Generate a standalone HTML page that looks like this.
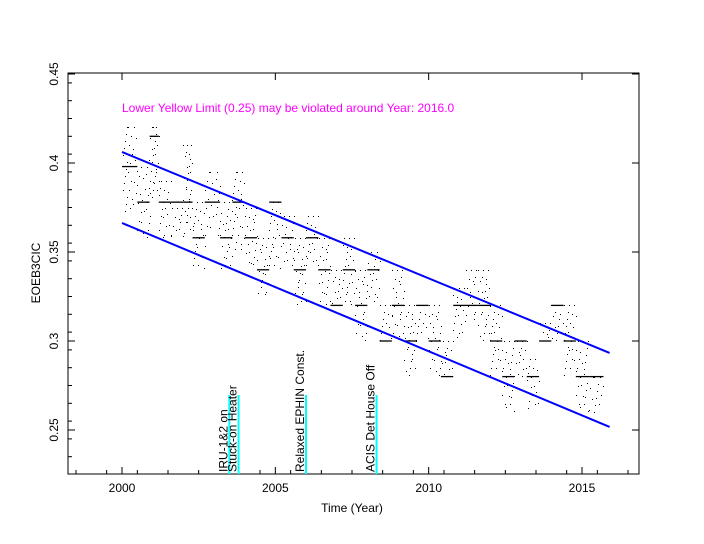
<!DOCTYPE html>
<html><head><meta charset="utf-8"><style>
body{margin:0;background:#fff;}
svg{display:block;font-family:"Liberation Sans",sans-serif;}
</style></head><body>
<svg id="chart" width="704" height="544">
<rect x="68" y="73" width="571" height="401" fill="none" stroke="#000" stroke-width="1"/>
<g id="marks"></g>
<text x="122" y="112" fill="#ff00ff" font-size="12">Lower Yellow  Limit (0.25) may be violated around Year: 2016.0</text>
<text x="352" y="512" text-anchor="middle" font-size="12">Time (Year)</text>
<text transform="translate(40,273) rotate(-90)" text-anchor="middle" font-size="12">EOEB3CIC</text>
</svg>
<script>
const xTicks=[2000,2005,2010,2015];
const yTicks=[0.25,0.3,0.35,0.4,0.45];
const segStart=[2000.0,2000.5,2000.9,2001.2,2001.6,2002.0,2002.3,2002.7,2003.2,2003.6,2004.0,2004.4,2004.8,2005.2,2005.6,2006.0,2006.4,2006.8,2007.2,2007.6,2008.0,2008.4,2008.8,2009.2,2009.6,2010.0,2010.4,2010.8,2011.2,2011.6,2012.0,2012.4,2012.8,2013.2,2013.6,2014.0,2014.4,2014.8,2015.2];
const segEnd=[2000.5,2000.9,2001.2,2001.6,2002.0,2002.3,2002.7,2003.2,2003.6,2004.0,2004.4,2004.8,2005.2,2005.6,2006.0,2006.4,2006.8,2007.2,2007.6,2008.0,2008.4,2008.8,2009.2,2009.6,2010.0,2010.4,2010.8,2011.2,2011.6,2012.0,2012.4,2012.8,2013.2,2013.6,2014.0,2014.4,2014.8,2015.2,2015.7];
const segLevel=[.398,.378,.415,.378,.378,.378,.358,.378,.358,.378,.358,.34,.378,.358,.34,.358,.34,.32,.34,.32,.34,.30,.32,.30,.32,.30,.28,.32,.32,.32,.30,.28,.30,.28,.30,.32,.30,.28,.28];
const segLo=[.372,.358,.38,.358,.358,.36,.34,.358,.34,.35,.34,.325,.34,.34,.32,.34,.32,.32,.32,.30,.32,.30,.30,.28,.30,.28,.28,.30,.31,.30,.28,.26,.28,.26,.30,.30,.28,.26,.26];
const segHi=[.42,.398,.42,.39,.375,.41,.378,.395,.378,.395,.375,.358,.378,.37,.358,.37,.358,.34,.358,.34,.35,.32,.34,.32,.32,.32,.30,.33,.34,.34,.32,.30,.30,.29,.31,.32,.32,.30,.28];
const fitStart=[2000,2015.9];
const upperFit=[0.4062,0.2933];
const lowerFit=[0.3663,0.2517];
const eventYears=[2003.5,2003.8,2006.0,2008.3];
const eventLabels=["IRU-1&2 on","Stuck-on Heater","Relaxed EPHIN Const.","ACIS Det House Off"];
const L=68,R=639,T=73,B=474;
const xs=y=>122+(y-2000)*460/15;
const ys=v=>74+(0.45-v)*1780;
const NS="http://www.w3.org/2000/svg";
const g=document.getElementById('marks');
function mk(t,a){const e=document.createElementNS(NS,t);for(const k in a)e.setAttribute(k,a[k]);g.appendChild(e);return e;}
xTicks.forEach(t=>{const x=xs(t);
 const l=mk('line',{x1:x,x2:x,y1:B,y2:B-7,stroke:'#000'});
 
 
 const l2=mk('line',{x1:x,x2:x,y1:T,y2:T+7,stroke:'#000'});
 
 
 const tx=mk('text',{x:x,y:B+18,'text-anchor':'middle','font-size':12});tx.textContent=t;
 
 
});
for(let t=1998.5;t<2017;t+=1){if(xTicks.includes(t))continue;const x=xs(t);if(x<L||x>R)continue;
 const m=mk('line',{x1:x,x2:x,y1:B,y2:B-4,stroke:'#000'});
 
 }
yTicks.forEach(v=>{const y=ys(v);
 const l=mk('line',{x1:L,x2:L+7,y1:y,y2:y,stroke:'#000'});
 
 
 const l2=mk('line',{x1:R,x2:R-7,y1:y,y2:y,stroke:'#000'});
 
 
 const tx=mk('text',{transform:`translate(58,${y}) rotate(-90)`,'text-anchor':'middle','font-size':12});tx.textContent=String(v);
 
 
});
for(let v=0.235;v<0.45;v+=0.01){const y=ys(v);if(y>B||y<T)continue;
 const m=mk('line',{x1:L,x2:L+4,y1:y,y2:y,stroke:'#000'});
 
 }
segStart.forEach((s,i)=>{
 const x1=xs(s),x2=xs(segEnd[i]);
 const b=mk('line',{x1:x1,x2:x2,y1:ys(segLevel[i]),y2:ys(segLevel[i]),stroke:'#000','stroke-width':1.3});
 
 
 const yl=ys(segLo[i]),yh=ys(segHi[i]);
 const n=3;
 for(let k=0;k<n;k++){const x=x1+(x2-x1)*(k+0.5)/n;
  for(let y=yh;y<=yl;y+=7+((k+i)%3)*2){
   const d=mk('rect',{x:Math.round(x+((Math.round(y)*7+k)%5)-2),y:Math.round(y),width:1,height:1,fill:'#000'});
   
   
  }}
});
[[upperFit,'upper-fit-line'],[lowerFit,'lower-fit-line']].forEach(([f,n])=>{
 const l=mk('line',{x1:xs(fitStart[0]),x2:xs(fitStart[1]),y1:ys(f[0]),y2:ys(f[1]),stroke:'#0000ff','stroke-width':2});
 
 
});
eventYears.forEach((e,i)=>{const x=xs(e);
 const l=mk('line',{x1:x,x2:x,y1:395,y2:B,stroke:'#00ffff','stroke-width':2});
 
 
 const t=mk('text',{transform:`translate(${x-2},${B-2}) rotate(-90)`,'font-size':12});t.textContent=eventLabels[i];
 
 
});
</script>
</body></html>
